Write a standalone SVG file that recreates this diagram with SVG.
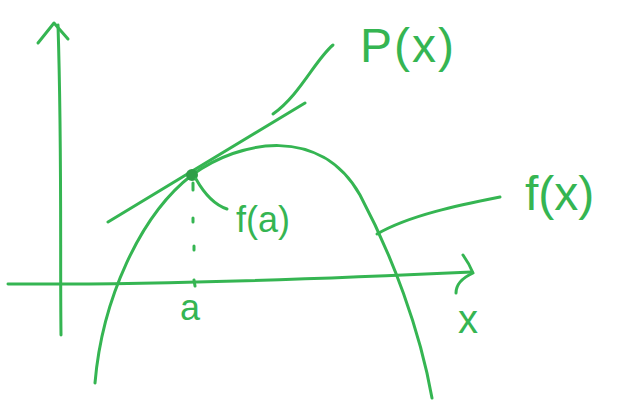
<svg xmlns="http://www.w3.org/2000/svg" width="622" height="401" viewBox="0 0 622 401">
<style>
.s{fill:none;stroke:#35b552;stroke-width:3;stroke-linecap:round;stroke-linejoin:round}
.t{fill:#35b552;font-family:"Liberation Sans",sans-serif}
</style>
<rect width="622" height="401" fill="#fff"/>
<g id="axes">
<path class="s" d="M61,335 C60,250 62,150 58,25"/>
<path class="s" d="M38,43 L54,23 L68,39"/>
<path class="s" d="M8,284 C150,285 300,280 472,272"/>
<path class="s" d="M463,255 C468,262 471,268 473,273 C462,278 456,285 456,293"/>
</g>
<g id="curve-f">
<path class="s" d="M95,383 C102,300 140,215 192,175 C240,140 320,125 360,195 C392,255 420,330 432,398"/>
</g>
<g id="tangent-P">
<path class="s" d="M108,222 L305,103" stroke-width="3.5"/>
</g>
<g id="point-a">
<circle cx="192" cy="175" r="6" fill="#2f9e48"/>
<path class="s" d="M193,183 L193,190 M193,218 L193,222 M194,246 L194,250 M194,280 L195,286" stroke-width="3.5"/>
</g>
<g id="connectors">
<path class="s" d="M273,114 C300,95 315,60 333,45"/>
<path class="s" d="M196,179 C205,195 215,205 227,209"/>
<path class="s" d="M377,234 C410,215 460,205 500,197"/>
</g>
<g id="labels">
<text class="t" x="360" y="62" font-size="48" letter-spacing="2">P(x)</text>
<text class="t" x="525" y="210" font-size="48">f(x)</text>
<text class="t" x="236" y="232" font-size="36">f(a)</text>
<text class="t" x="180" y="320" font-size="36">a</text>
<text class="t" x="458" y="333" font-size="40">x</text>
</g>
</svg>
